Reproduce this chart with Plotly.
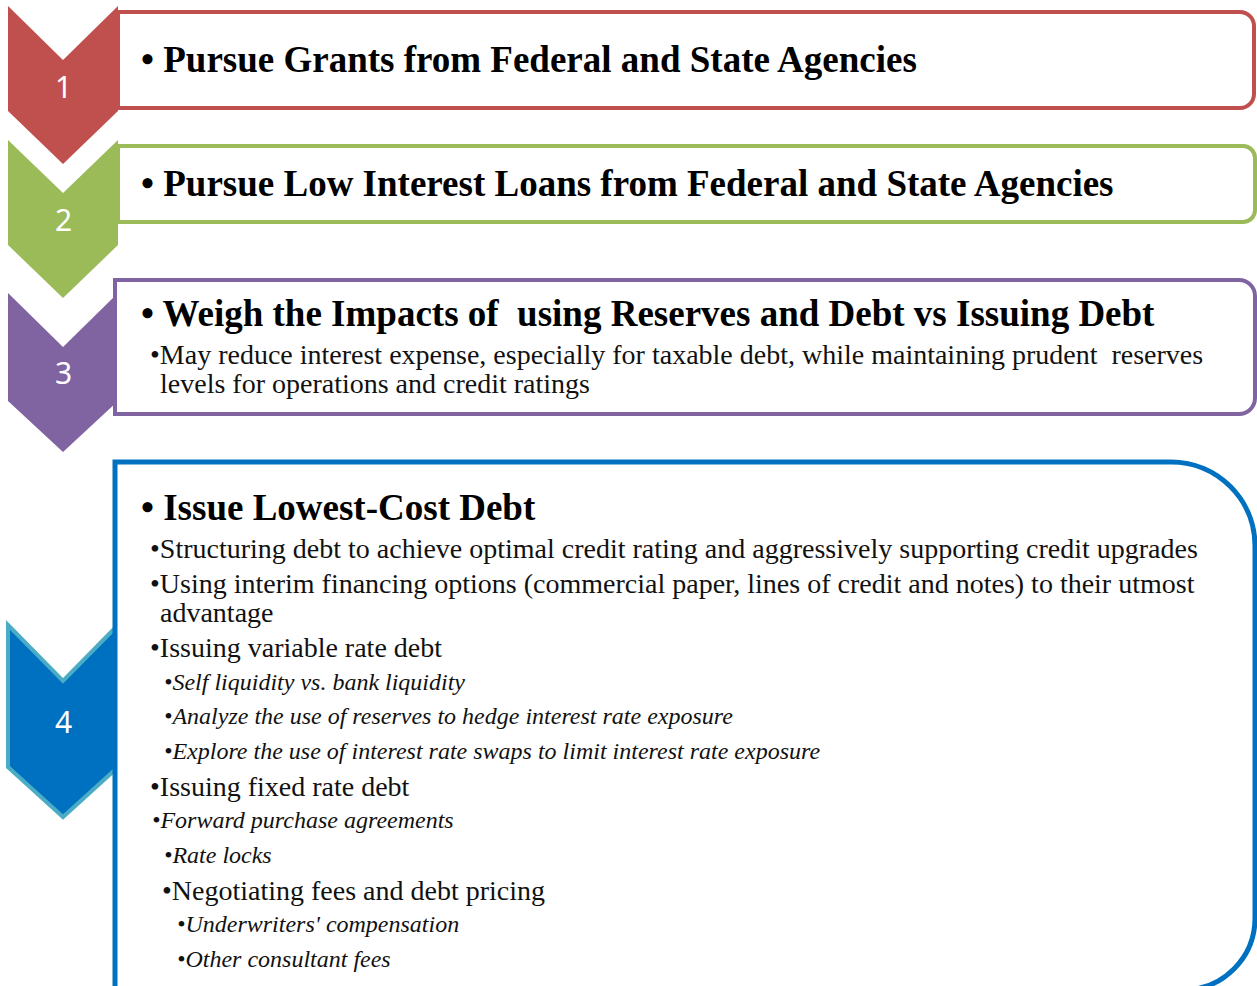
import plotly.graph_objects as go

# ---------------- data ----------------
step_numbers = ["1", "2", "3", "4"]
step_titles = [
    "Pursue Grants from Federal and State Agencies",
    "Pursue Low Interest Loans from Federal and State Agencies",
    "Weigh the Impacts of  using Reserves and Debt vs Issuing Debt",
    "Issue Lowest-Cost Debt",
]
step3_lines = [
    "•May reduce interest expense, especially for taxable debt, while maintaining prudent  reserves",
    "levels for operations and credit ratings",
]
step4_lines = [
    "•Structuring debt to achieve optimal credit rating and aggressively supporting credit upgrades",
    "•Using interim financing options (commercial paper, lines of credit and notes) to their utmost",
    "advantage",
    "•Issuing variable rate debt",
    "•Self liquidity vs. bank liquidity",
    "•Analyze the use of reserves to hedge interest rate exposure",
    "•Explore the use of interest rate swaps to limit interest rate exposure",
    "•Issuing fixed rate debt",
    "•Forward purchase agreements",
    "•Rate locks",
    "•Negotiating fees and debt pricing",
    "•Underwriters' compensation",
    "•Other consultant fees",
]
step4_italic = [False, False, False, False, True, True, True, False, True, True, False, True, True]
step4_indent = [0, 0, 0, 0, 1, 1, 1, 0, 0, 1, 1, 2, 2]

# ---------------- styles / layout ----------------
W, H = 1257, 986
fill_colors = ["#C0504D", "#9BBB59", "#8064A2", "#0070C0"]
chev_outline = [None, None, None, "#4BACC6"]
SERIF = "Liberation Serif, Times New Roman, serif"
SANS = "Noto Sans, Open Sans, sans-serif"
TITLE_SIZE = 37
REG_SIZE = 28
IT_SIZE = 24

# chevrons: top y, notch y, side-bottom y, tip y
chev_geo = [(6, 60, 111, 164), (140, 193, 245, 298), (293, 347, 401, 452), (625, 681, 767, 817)]
num_y = [86, 219, 372, 721]
# boxes: x0, y0, x1, y1, top-right radius, bottom-right radius, linewidth
box_geo = [(118, 12, 1254, 108, 14, 14, 4), (118, 146, 1255, 222, 12, 12, 4),
           (115, 280, 1255, 414, 16, 16, 4), (115, 462, 1255, 990, 84, 72, 5)]
title_y = [59, 183, 313, 507]


def chevron_path(t, n, s, tip, xl=8, xc=63, xr=118):
    return f"M {xl},{t} L {xc},{n} L {xr},{t} L {xr},{s} L {xc},{tip} L {xl},{s} Z"


def box_path(x0, y0, x1, y1, r1, r2):
    k1 = 0.5523 * r1
    k2 = 0.5523 * r2
    return (f"M {x0},{y0} L {x1 - r1},{y0} C {x1 - r1 + k1},{y0} {x1},{y0 + r1 - k1} {x1},{y0 + r1} "
            f"L {x1},{y1 - r2} C {x1},{y1 - r2 + k2} {x1 - r2 + k2},{y1} {x1 - r2},{y1} L {x0},{y1} Z")


shapes = []
for i in range(4):
    t, n, s, tip = chev_geo[i]
    line = dict(width=0) if chev_outline[i] is None else dict(color=chev_outline[i], width=4)
    shapes.append(dict(type="path", path=chevron_path(t, n, s, tip), fillcolor=fill_colors[i],
                       line=line, layer="above", xref="x", yref="y"))
    x0, y0, x1, y1, r1, r2, lw = box_geo[i]
    shapes.append(dict(type="path", path=box_path(x0, y0, x1, y1, r1, r2), fillcolor="white",
                       line=dict(color=fill_colors[i], width=lw), layer="above", xref="x", yref="y"))

annotations = []
for i in range(4):
    annotations.append(dict(x=63, y=num_y[i], text=step_numbers[i], showarrow=False,
                            xanchor="center", yanchor="middle",
                            font=dict(family=SANS, size=30, color="white")))
    annotations.append(dict(x=139, y=title_y[i], text="<b>• " + step_titles[i] + "</b>", showarrow=False,
                            xanchor="left", yanchor="middle",
                            font=dict(family=SERIF, size=TITLE_SIZE, color="black")))

sub_y3 = [354, 383]
sub_x3 = [148, 158]
for txt, y, x in zip(step3_lines, sub_y3, sub_x3):
    annotations.append(dict(x=x, y=y, text=txt, showarrow=False, xanchor="left", yanchor="middle",
                            font=dict(family=SERIF, size=REG_SIZE, color="#111111")))

sub_y4 = [548, 583, 612, 647, 682, 716, 751, 786, 820, 855, 890, 924, 959]
text_start = [161, 173, 186]
for txt, y, it, ind in zip(step4_lines, sub_y4, step4_italic, step4_indent):
    size = IT_SIZE if it else REG_SIZE
    if txt.startswith("•"):
        x = text_start[ind] - 3 - 0.35 * size
    else:
        x = text_start[ind] - 3
    t = f"<i>{txt}</i>" if it else txt
    annotations.append(dict(x=x, y=y, text=t, showarrow=False, xanchor="left", yanchor="middle",
                            font=dict(family=SERIF, size=size, color="#111111")))

fig = go.Figure()
fig.update_layout(
    width=W, height=H, margin=dict(l=0, r=0, t=0, b=0),
    paper_bgcolor="white", plot_bgcolor="white",
    xaxis=dict(range=[0, W], visible=False, fixedrange=True),
    yaxis=dict(range=[H, 0], visible=False, fixedrange=True),
    shapes=shapes, annotations=annotations, showlegend=False,
)
fig.write_html("out.html", config=dict(displayModeBar=False),
               post_script="document.body.style.margin='0';document.body.style.overflow='hidden';")
